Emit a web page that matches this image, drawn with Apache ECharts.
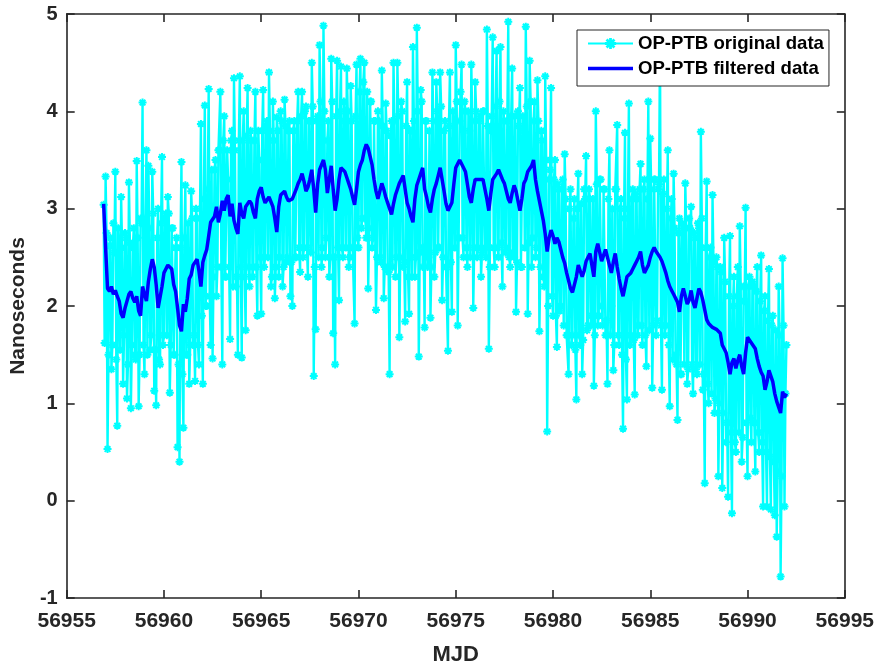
<!DOCTYPE html>
<html>
<head>
<meta charset="utf-8">
<script src="https://cdn.jsdelivr.net/npm/echarts@6/dist/echarts.min.js"></script>
<style>
html,body{margin:0;padding:0;background:#fff;}
#chart{width:877px;height:671px;}
</style>
</head>
<body>
<div id="chart"></div>
<script>
// Sampling: whole-step samples start at firstMJD every stepDays;
// half-step samples sit midway between them.
const firstMJD = 56956.9;
const stepDays = 0.1;

// axis ticks
const xTicks = [56955, 56960, 56965, 56970, 56975, 56980, 56985, 56990, 56995];
const yTicks = [-1, 0, 1, 2, 3, 4, 5];

// OP-PTB original data (ns) at whole steps (56956.9, 56957.0, ...)
const originalNs = [
  3.04,
  3.33, 0.53, 2.62, 1.35, 2.85, 3.38, 0.77, 2.55, 3.12, 1.2,
  2.75, 1.05, 3.27, 0.95, 2.6, 1.5, 3.49, 0.97, 2.9, 4.09,
  1.3, 3.6, 3.44, 1.55, 3.38, 1.13, 0.98, 3.0, 1.4, 3.53,
  1.7, 2.95, 3.12, 1.11, 2.8, 1.5, 2.6, 0.55, 0.4, 3.48,
  0.75, 3.24, 1.5, 1.2, 3.18, 1.6, 1.23, 2.9, 1.4, 3.87,
  1.2, 4.06, 2.0, 4.23, 1.6, 1.46, 3.4, 2.1, 3.6, 4.2,
  1.4, 3.95, 2.3, 3.3, 1.66, 3.8, 4.34, 2.2, 1.5, 4.36,
  1.47, 4.0, 1.75, 4.24, 2.2, 3.7, 2.4, 4.2, 1.9, 3.5,
  1.92, 4.22, 2.5, 3.9, 4.4, 2.2, 4.1, 2.08, 3.94, 2.3,
  4.0, 2.2, 4.12, 2.45, 3.8, 2.1, 2.0, 3.9, 2.5, 4.2,
  2.35, 4.2, 2.6, 4.05, 2.3, 3.9, 4.5, 1.28, 1.76, 3.95,
  4.68, 2.4, 4.88, 2.5, 3.7, 2.3, 4.54, 1.72, 1.4, 4.52,
  2.06, 4.46, 2.5, 3.9, 4.44, 2.4, 4.26, 2.6, 1.82, 4.48,
  2.6, 4.54, 2.9, 4.5, 2.7, 2.18, 4.1, 2.6, 3.9, 1.96,
  4.0, 2.5, 4.42, 2.08, 4.08, 2.4, 1.3, 3.9, 4.5, 2.3,
  4.5, 1.68, 4.1, 2.4, 1.84, 4.3, 1.92, 3.8, 4.66, 2.3,
  4.86, 1.48, 4.22, 2.4, 1.78, 3.9, 2.5, 1.88, 4.4, 2.3,
  4.3, 2.6, 4.4, 2.06, 3.8, 2.4, 1.54, 4.4, 1.94, 3.7,
  4.68, 1.8, 3.9, 4.48, 2.5, 4.0, 2.4, 3.8, 4.48, 1.98,
  4.3, 2.5, 3.9, 2.3, 4.0, 2.6, 4.84, 1.56, 3.8, 4.76,
  2.4, 4.62, 2.5, 4.66, 2.2, 3.9, 2.6, 4.92, 2.4, 4.44,
  2.5, 1.94, 4.0, 4.24, 2.4, 3.8, 4.87, 1.92, 4.52, 2.4,
  3.9, 2.5, 4.32, 1.74, 3.8, 2.3, 4.36, 0.71, 3.3, 4.24,
  1.9, 3.5, 1.58, 3.2, 2.0, 3.3, 3.56, 1.7, 1.3, 3.2,
  1.7, 3.1, 1.04, 3.36, 1.6, 1.3, 3.2, 3.54, 1.8, 3.1,
  1.9, 1.18, 4.0, 1.8, 3.3, 2.0, 3.2, 1.7, 1.2, 3.6,
  2.0, 1.34, 3.2, 3.86, 1.6, 3.1, 0.74, 3.78, 1.04, 4.08,
  1.7, 3.2, 1.09, 3.1, 1.8, 3.46, 1.6, 3.3, 1.38, 4.1,
  3.72, 1.16, 3.3, 1.7, 3.2, 4.7, 1.14, 3.3, 1.8, 3.6,
  0.97, 3.1, 3.36, 1.5, 0.83, 2.9, 1.3, 2.8, 3.26, 1.2,
  2.9, 3.02, 1.1, 2.7, 1.3, 2.8, 3.79, 1.14, 0.18, 3.28,
  1.0, 2.6, 3.14, 0.9, 2.5, 0.25, 2.4, 0.13, 2.7, 0.6,
  0.04, 2.72, -0.13, 2.3, 0.5, 2.4, 2.82, 0.4, 2.2, 3.01,
  0.25, 2.3, 0.6, 2.2, 0.3, 2.4, 0.5, 2.52, -0.06, 2.1,
  -0.06, 2.38, -0.09, 1.9, -0.15, -0.37, 2.2, -0.78, 2.49, -0.06,
  1.6
];

// OP-PTB original data (ns) at half steps (56956.95, 56957.05, ...)
const originalNsHalf = [
  1.62,
  2.75, 1.5, 2.7, 1.6, 2.55, 1.45, 2.8, 1.55, 2.6, 1.7,
  2.7, 1.4, 2.65, 1.6, 2.8, 1.45, 2.7, 1.5, 2.85, 1.6,
  2.9, 1.5, 2.8, 1.7, 2.95, 1.55, 2.7, 1.45, 2.85, 1.6,
  2.9, 1.7, 2.95, 1.6, 2.8, 1.5, 2.7, 1.4, 2.6, 1.3,
  2.7, 1.5, 2.85, 1.6, 2.9, 1.7, 3.0, 1.6, 2.9, 1.9,
  3.1, 2.0, 3.2, 2.1, 3.4, 2.3, 3.5, 2.4, 3.6, 2.4,
  3.7, 2.3, 3.6, 2.4, 3.7, 2.2, 3.6, 2.3, 3.7, 2.4,
  3.7, 2.3, 3.75, 2.4, 3.8, 2.3, 3.7, 2.4, 3.8, 2.5,
  3.8, 2.4, 3.85, 2.5, 3.8, 2.3, 3.7, 2.4, 3.8, 2.5,
  3.9, 2.4, 3.85, 2.5, 3.9, 2.45, 3.8, 2.5, 3.9, 2.6,
  3.95, 2.5, 4.0, 2.6, 3.9, 2.55, 4.05, 2.4, 3.9, 2.5,
  4.1, 2.6, 4.0, 2.7, 3.9, 2.5, 4.1, 2.5, 3.95, 2.6,
  4.0, 2.6, 4.1, 2.6, 4.0, 2.5, 3.9, 2.6, 3.95, 2.7,
  4.2, 2.8, 4.3, 2.9, 4.2, 2.8, 4.1, 2.7, 3.9, 2.5,
  3.9, 2.45, 3.85, 2.4, 3.8, 2.35, 3.75, 2.4, 3.9, 2.5,
  3.95, 2.5, 4.0, 2.45, 3.85, 2.3, 3.8, 2.3, 3.9, 2.5,
  4.0, 2.55, 4.1, 2.6, 3.9, 2.4, 3.8, 2.4, 3.9, 2.55,
  4.0, 2.6, 4.05, 2.5, 3.9, 2.4, 3.85, 2.45, 4.0, 2.6,
  4.1, 2.7, 4.2, 2.7, 4.1, 2.6, 4.0, 2.5, 3.9, 2.6,
  4.0, 2.6, 3.95, 2.55, 4.0, 2.5, 3.85, 2.4, 3.95, 2.6,
  4.05, 2.6, 4.1, 2.65, 4.0, 2.55, 3.9, 2.5, 3.95, 2.55,
  3.95, 2.45, 3.85, 2.4, 3.95, 2.6, 4.05, 2.65, 4.1, 2.7,
  4.1, 2.6, 3.9, 2.4, 3.7, 2.2, 3.5, 2.0, 3.4, 2.1,
  3.3, 1.9, 3.25, 1.95, 3.2, 1.8, 3.1, 1.7, 3.0, 1.6,
  2.9, 1.55, 3.0, 1.7, 3.05, 1.65, 3.1, 1.75, 3.2, 1.8,
  3.1, 1.7, 3.25, 1.9, 3.3, 1.8, 3.2, 1.85, 3.1, 1.7,
  3.0, 1.6, 3.2, 1.7, 3.0, 1.5, 2.9, 1.45, 3.0, 1.6,
  3.1, 1.65, 3.15, 1.7, 3.2, 1.8, 3.2, 1.7, 3.1, 1.75,
  3.2, 1.8, 3.3, 1.85, 3.25, 1.8, 3.15, 1.7, 3.0, 1.6,
  2.9, 1.45, 2.8, 1.4, 2.75, 1.3, 2.85, 1.4, 2.8, 1.35,
  2.8, 1.4, 2.75, 1.35, 2.85, 1.4, 2.9, 1.3, 2.6, 1.2,
  2.5, 1.1, 2.45, 1.05, 2.4, 1.0, 2.35, 0.9, 2.25, 0.8,
  2.1, 0.7, 2.0, 0.6, 2.1, 0.7, 2.2, 0.65, 2.05, 0.8,
  2.2, 0.85, 2.25, 0.8, 2.15, 0.7, 2.05, 0.6, 1.95, 0.5,
  1.85, 0.45, 1.8, 0.4, 1.75, 0.3, 1.7, 0.25, 1.8, 1.1
];

// OP-PTB filtered data (ns) at whole steps (56956.9, 56957.0, ...)
const filteredNs = [
  3.05,
  2.6, 2.18, 2.15, 2.2, 2.12, 2.16, 2.1, 2.05, 1.92, 1.88,
  1.98, 2.05, 2.12, 2.15, 2.08, 2.04, 2.1, 1.95, 1.9, 2.2,
  2.12, 2.05, 2.25, 2.38, 2.48, 2.4, 2.22, 1.98, 1.96, 2.2,
  2.34, 2.38, 2.42, 2.4, 2.38, 2.22, 2.15, 1.98, 1.8, 1.74,
  2.02, 1.94, 2.08, 2.28, 2.32, 2.42, 2.45, 2.48, 2.36, 2.2,
  2.45, 2.52, 2.58, 2.72, 2.86, 2.88, 2.92, 3.02, 2.86, 2.95,
  3.08, 2.98, 3.1, 3.14, 2.92, 3.05, 2.88, 2.8, 2.74, 3.06,
  2.95, 2.9, 3.02, 3.0, 3.08, 3.05, 2.96, 2.9, 3.1, 3.18,
  3.22, 3.12, 3.06, 3.04, 3.12, 3.1, 3.02, 2.9, 2.76, 3.02,
  3.14, 3.16, 3.18, 3.12, 3.08, 3.06, 3.1, 3.12, 3.2, 3.26,
  3.3, 3.36, 3.28, 3.18, 3.22, 3.3, 3.4, 3.2, 2.96, 3.25,
  3.4, 3.45, 3.5, 3.4, 3.16, 3.3, 3.44, 3.2, 2.98, 3.1,
  3.3, 3.42, 3.4, 3.38, 3.32, 3.26, 3.2, 3.12, 3.04, 3.2,
  3.38, 3.45, 3.5, 3.6, 3.66, 3.62, 3.64, 3.45, 3.3, 3.18,
  3.1, 3.18, 3.26, 3.2, 3.12, 3.06, 3.0, 2.94, 3.05, 3.14,
  3.2, 3.26, 3.3, 3.34, 3.2, 3.06, 3.0, 2.92, 2.86, 3.1,
  3.24, 3.3, 3.36, 3.42, 3.2, 3.12, 3.02, 2.96, 3.1, 3.2,
  3.26, 3.34, 3.42, 3.3, 3.18, 3.05, 2.98, 3.02, 3.06, 3.25,
  3.42, 3.46, 3.5, 3.52, 3.42, 3.38, 3.25, 3.12, 3.06, 3.2,
  3.3, 3.28, 3.3, 3.32, 3.3, 3.2, 3.1, 2.98, 3.15, 3.3,
  3.32, 3.36, 3.4, 3.42, 3.3, 3.26, 3.18, 3.1, 3.06, 3.16,
  3.24, 3.18, 3.08, 2.98, 3.1, 3.26, 3.3, 3.38, 3.4, 3.44,
  3.5, 3.3, 3.18, 3.08, 2.98, 2.88, 2.74, 2.56, 2.7, 2.78,
  2.72, 2.64, 2.7, 2.66, 2.58, 2.5, 2.44, 2.34, 2.26, 2.18,
  2.14, 2.12, 2.3, 2.42, 2.36, 2.3, 2.36, 2.46, 2.5, 2.54,
  2.42, 2.3, 2.56, 2.64, 2.55, 2.46, 2.52, 2.58, 2.5, 2.42,
  2.34, 2.45, 2.54, 2.4, 2.28, 2.18, 2.1, 2.2, 2.3, 2.32,
  2.34, 2.38, 2.42, 2.46, 2.5, 2.56, 2.42, 2.34, 2.38, 2.42,
  2.5, 2.56, 2.6, 2.56, 2.58, 2.5, 2.46, 2.4, 2.34, 2.26,
  2.2, 2.16, 2.12, 2.1, 2.04, 1.94, 2.1, 2.18, 2.1, 2.02,
  2.06, 2.16, 2.04, 1.98, 2.08, 2.18, 2.14, 2.06, 1.96, 1.86,
  1.82, 1.8, 1.78, 1.76, 1.76, 1.74, 1.72, 1.6, 1.56, 1.52,
  1.42, 1.3, 1.42, 1.46, 1.36, 1.44, 1.5, 1.38, 1.3, 1.52,
  1.68, 1.66, 1.62, 1.6, 1.56, 1.46, 1.38, 1.32, 1.28, 1.14,
  1.22, 1.34, 1.28, 1.22, 1.1, 1.02, 0.96, 0.9, 1.12, 1.06,
  1.1
];

const seriesNames = ['OP-PTB original data', 'OP-PTB filtered data'];

function mjdAt(i, step) {
  return Math.round((firstMJD + i * step) * 1000) / 1000;
}
// whole-step and half-step samples merged in time order
const originalPairs = [];
originalNs.forEach((v, i) => {
  originalPairs.push([mjdAt(i, stepDays), v]);
  if (i < originalNsHalf.length) originalPairs.push([mjdAt(i + 0.5, stepDays), originalNsHalf[i]]);
});
const filteredPairs = filteredNs.map((v, i) => [mjdAt(i, stepDays), v]);

const axisColor = '#262626';
const fontFam = '"Liberation Sans", Arial, Helvetica, sans-serif';
const asterisk = 'path://M-1,-4L1,-4L1,-1L4,-1L4,1L1,1L1,4L-1,4L-1,1L-4,1L-4,-1L-1,-1Z' +
  'M2.12,-3.54L3.54,-2.12L1.41,0L3.54,2.12L2.12,3.54L0,1.41L-2.12,3.54L-3.54,2.12L-1.41,0L-3.54,-2.12L-2.12,-3.54L0,-1.41Z';

const chart = echarts.init(document.getElementById('chart'), null, {renderer: 'canvas'});

const baseX = {
  type: 'value', min: xTicks[0], max: xTicks[xTicks.length - 1], interval: xTicks[1] - xTicks[0],
  axisLine: {show: true, onZero: false, lineStyle: {color: axisColor, width: 1.6}},
  axisTick: {show: true, inside: true, length: 8, lineStyle: {color: axisColor, width: 1.6}},
  splitLine: {show: false}
};
const baseY = {
  type: 'value', min: yTicks[0], max: yTicks[yTicks.length - 1], interval: yTicks[1] - yTicks[0],
  axisLine: {show: true, onZero: false, lineStyle: {color: axisColor, width: 1.6}},
  axisTick: {show: true, inside: true, length: 8, lineStyle: {color: axisColor, width: 1.6}},
  splitLine: {show: false}
};

chart.setOption({
  animation: false,
  backgroundColor: '#ffffff',
  grid: {left: 66, right: 31, top: 14, bottom: 66, containLabel: false},
  legend: {
    show: true,
    data: [
      {name: seriesNames[0]},
      {name: seriesNames[1], icon: 'path://M0,0L45,0L45,3.6L0,3.6Z'}
    ],
    orient: 'vertical',
    left: 577, top: 30,
    padding: [4, 5, 8, 10],
    itemWidth: 45, itemHeight: 14, itemGap: 6,
    backgroundColor: '#ffffff',
    borderColor: axisColor, borderWidth: 1,
    textStyle: {color: '#000', fontSize: 18.6, fontWeight: 'bold', fontFamily: fontFam, lineHeight: 19}
  },
  xAxis: [
    Object.assign({}, baseX, {
      position: 'bottom',
      name: 'MJD', nameLocation: 'middle', nameGap: 46,
      nameTextStyle: {color: axisColor, fontSize: 22, fontWeight: 'bold', fontFamily: fontFam},
      axisLabel: {color: axisColor, fontSize: 21, fontWeight: 'bold', fontFamily: fontFam, margin: 13,
        formatter: v => String(v)}
    }),
    Object.assign({}, baseX, {position: 'top', axisLabel: {show: false}})
  ],
  yAxis: [
    Object.assign({}, baseY, {
      position: 'left',
      name: 'Nanoseconds', nameLocation: 'middle', nameGap: 30, nameRotate: 90,
      nameTextStyle: {color: axisColor, fontSize: 21, fontWeight: 'bold', fontFamily: fontFam},
      axisLabel: {color: axisColor, fontSize: 20, fontWeight: 'bold', fontFamily: fontFam, margin: 9,
        formatter: v => String(v)}
    }),
    Object.assign({}, baseY, {position: 'right', axisLabel: {show: false}})
  ],
  series: [
    {
      name: seriesNames[0], type: 'line', xAxisIndex: 0, yAxisIndex: 0,
      data: originalPairs,
      symbol: asterisk, symbolSize: 8, showSymbol: true, showAllSymbol: true,
      lineStyle: {color: '#00ffff', width: 2.4},
      itemStyle: {color: '#00ffff'},
      z: 2, clip: true
    },
    {
      name: seriesNames[1], type: 'line', xAxisIndex: 0, yAxisIndex: 0,
      data: filteredPairs,
      symbol: 'none', showSymbol: false,
      lineStyle: {color: '#0000ff', width: 3.5},
      itemStyle: {color: '#0000ff'},
      z: 3, clip: true
    }
  ]
});
</script>
</body>
</html>
